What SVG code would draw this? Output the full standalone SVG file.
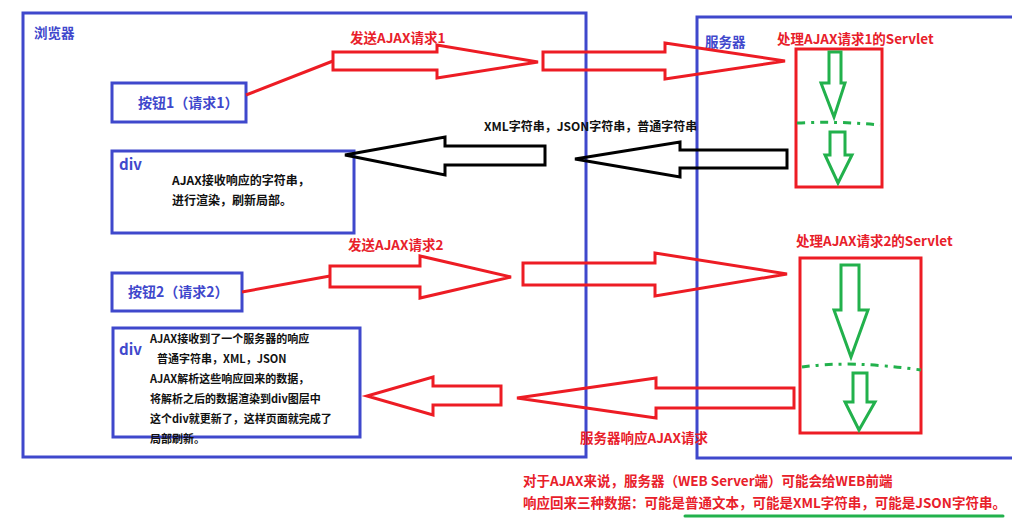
<svg xmlns="http://www.w3.org/2000/svg" width="1012" height="529" viewBox="0 0 1012 529">
<style>
text{font-family:"Noto Sans CJK SC","Microsoft YaHei",sans-serif;font-weight:bold}
.blue{fill:none;stroke:#3f48cc;stroke-width:3}
.redbox{fill:none;stroke:#ed1c24;stroke-width:3}
.ra{fill:none;stroke:#ed1c24;stroke-width:3;stroke-linejoin:miter}
.ka{fill:none;stroke:#000;stroke-width:3}
.ga{fill:none;stroke:#22b14c;stroke-width:3}
.gd{fill:none;stroke:#22b14c;stroke-width:3;stroke-dasharray:8 6 3 6}
.tb{fill:#3f48cc;font-size:13.5px}
.tr{fill:#e8202a;font-size:13.5px}
.tk{fill:#111;font-size:12px}
.tk2{fill:#111;font-size:11px}
</style>
<rect width="1012" height="529" fill="#fff"/>
<g id="browser">
<rect class="blue" x="23" y="13" width="563" height="444"/>
<text class="tb" x="34" y="38">浏览器</text>
</g>
<g id="server">
<rect class="blue" x="697" y="17" width="340" height="441"/>
<text class="tb" x="705" y="47">服务器</text>
</g>
<g id="button1">
<rect class="blue" x="112" y="83" width="134" height="39"/>
<text class="tb" x="138" y="108" style="font-size:14px">按钮1（请求1）</text>
</g>
<g id="div1">
<rect class="blue" x="112" y="151" width="242" height="82"/>
<text class="tb" x="119" y="170" style="font-size:15px">div</text>
<text class="tk" x="172" y="185">AJAX接收响应的字符串，</text>
<text class="tk" x="172" y="205">进行渲染，刷新局部。</text>
</g>
<g id="button2">
<rect class="blue" x="112" y="273" width="130" height="38"/>
<text class="tb" x="128" y="297" style="font-size:14px">按钮2（请求2）</text>
</g>
<g id="div2">
<rect class="blue" x="113" y="328" width="247" height="109"/>
<text class="tb" x="119" y="355" style="font-size:15px">div</text>
<text class="tk2" x="150" y="343">AJAX接收到了一个服务器的响应</text>
<text class="tk2" x="157" y="363">普通字符串，XML，JSON</text>
<text class="tk2" x="150" y="383">AJAX解析这些响应回来的数据，</text>
<text class="tk2" x="150" y="403">将解析之后的数据渲染到div图层中</text>
<text class="tk2" x="150" y="423">这个div就更新了，这样页面就完成了</text>
<text class="tk2" x="150" y="443">局部刷新。</text>
</g>
<g id="servlet1">
<rect class="redbox" x="796" y="49" width="86" height="138"/>
<text class="tr" x="777" y="44">处理AJAX请求1的Servlet</text>
<polygon class="ga" points="829,52 841,52 841,83 845,83 834,117 821,83 829,83"/>
<path class="gd" d="M797,123 Q840,121 880,125"/>
<polygon class="ga" points="830,132 845,132 845,155 852,155 838,183 825,155 830,155"/>
</g>
<g id="servlet2">
<rect class="redbox" x="800" y="258" width="121" height="175"/>
<text class="tr" x="796" y="246">处理AJAX请求2的Servlet</text>
<polygon class="ga" points="841,265 859,265 859,310 868,310 851,357 834,310 841,310"/>
<path class="gd" d="M802,367 Q850,360 921,370"/>
<polygon class="ga" points="853,373 867,373 867,402 875,402 859,430 845,402 853,402"/>
</g>
<g id="connectors">
<line class="ra" x1="246" y1="95" x2="333" y2="61"/>
<polygon class="ra" points="333,52 437,52 437,45 538,62 437,78 437,70 333,70"/>
<polygon class="ra" points="543,52 665,52 665,43 785,61 665,79 665,70 543,70"/>
<polygon class="ka" points="787,150 680,150 680,142 575,159 680,177 680,168 787,168"/>
<polygon class="ka" points="545,146 445,146 445,137 345,155 445,175 445,165 545,165"/>
<line class="ra" x1="242" y1="292" x2="330" y2="276"/>
<polygon class="ra" points="330,266 420,266 420,256 511,277 420,298 420,287 330,287"/>
<polygon class="ra" points="523,263 655,263 655,253 787,274 655,296 655,285 523,285"/>
<polygon class="ra" points="794,388 656,388 656,378 517,398 656,418 656,408 794,408"/>
<polygon class="ra" points="501,386 433,386 433,377 367,396 433,415 433,405 501,405"/>
</g>
<g id="labels">
<text class="tr" x="350" y="43">发送AJAX请求1</text>
<text class="tk" x="484" y="131">XML字符串，JSON字符串，普通字符串</text>
<text class="tr" x="348" y="250">发送AJAX请求2</text>
<text class="tr" x="580" y="443">服务器响应AJAX请求</text>
</g>
<g id="note">
<text class="tr" x="523" y="486">对于AJAX来说，服务器（WEB Server端）可能会给WEB前端</text>
<text class="tr" x="523" y="508">响应回来三种数据：可能是普通文本，可能是XML字符串，可能是JSON字符串。</text>
<line x1="685" y1="516" x2="1003" y2="516" stroke="#22b14c" stroke-width="3" stroke-linecap="round"/>
</g>
</svg>
